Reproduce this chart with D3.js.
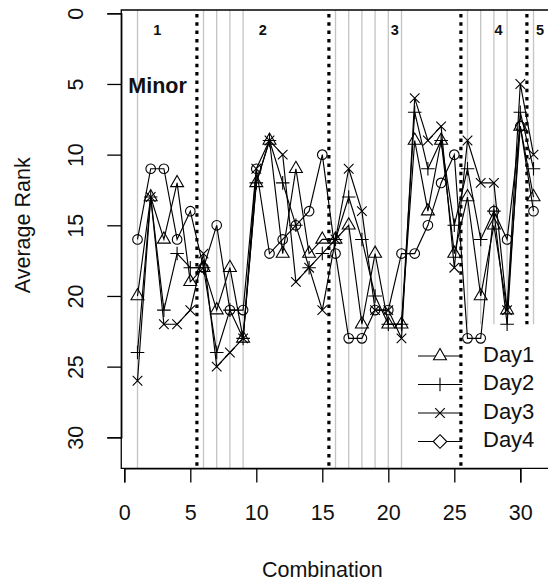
<!DOCTYPE html>
<html>
<head>
<meta charset="utf-8">
<script src="https://cdn.jsdelivr.net/npm/d3@7/dist/d3.min.js"></script>
<style>
  html, body { margin: 0; padding: 0; background: #fff; }
  svg { display: block; font-family: "Liberation Sans", Arial, sans-serif; }
</style>
</head>
<body>
<svg id="chart" width="548" height="588"></svg>
<script>
// Combinations 1..31 and the average rank for each day
const combos = d3.range(1, 32);
const day1 = [20,13,16,12,19,18,21,18,23,12,9,17,11,17,16,16,15,22,17,22,22,9,14,9,17,13,20,15,21,8,13];
const day2 = [24,13,21,17,18,18,24,21,23,12,9,12,15,18,17,16,13,16,20,22,22,7,11,9,15,11,16,14,22,7,11];
const day3 = [26,13,22,22,21,17,25,24,23,11,9,10,19,18,21,16,11,14,21,21,23,6,9,8,18,9,12,12,21,5,10];
const day4 = [16,11,11,16,14,18,15,21,21,11,17,16,15,14,10,17,23,23,21,21,17,17,15,12,10,23,23,14,16,8,14];
const seriesNames = ["Day1", "Day2", "Day3", "Day4"];
const xTicks = [0, 5, 10, 15, 20, 25, 30];
const yTicks = [0, 5, 10, 15, 20, 25, 30];

// Group separators, group labels and the thin guide lines
const groupBreaks = [5.5, 15.5, 25.5, 30.5];
const groupLabels = ["1", "2", "3", "4", "5"];
const groupLabelX = [2.5, 10.5, 20.5, 28.35, 31.5];
const guidesFull = [1, 6, 7, 8, 9, 16, 17, 18, 19, 20, 21];
const guidesShort = [26, 27, 28, 29, 31];
const shortGuideEnd = 22;

const svg = d3.select("#chart");
const x = d3.scaleLinear().domain([0, 30]).range([124.3, 520.3]);
const y = d3.scaleLinear().domain([0, 30]).range([13.3, 437.3]);
const xMin = -0.23, xMax = 32.3, yMin = -0.235, yMax = 32.2;

const font = 21.5;

// guide lines
const g = svg.append("g");
g.selectAll("line.gf").data(guidesFull).join("line")
  .attr("x1", d => x(d)).attr("x2", d => x(d))
  .attr("y1", y(yMin)).attr("y2", y(yMax))
  .attr("stroke", "#c4c4c4").attr("stroke-width", 1.3);
g.selectAll("line.gs").data(guidesShort).join("line")
  .attr("x1", d => x(d)).attr("x2", d => x(d))
  .attr("y1", y(yMin)).attr("y2", y(shortGuideEnd))
  .attr("stroke", "#c4c4c4").attr("stroke-width", 1.3);

// dotted group separators
g.selectAll("line.gb").data(groupBreaks).join("line")
  .attr("x1", d => x(d)).attr("x2", d => x(d))
  .attr("y1", y(yMin) + 4)
  .attr("y2", d => d > 30 ? y(shortGuideEnd) : y(yMax))
  .attr("stroke", "#000").attr("stroke-width", 3.2)
  .attr("stroke-dasharray", "3.5,4.8");

// group labels
g.selectAll("text.gl").data(groupLabels).join("text")
  .attr("x", (d, i) => x(groupLabelX[i])).attr("y", y(1.2))
  .attr("dy", "0.35em").attr("text-anchor", "middle")
  .attr("font-size", 14.5).attr("font-weight", "bold").attr("fill", "#111")
  .text(d => d);

svg.append("text")
  .attr("x", x(0.3)).attr("y", 93)
  .attr("font-size", 21.5).attr("font-weight", "bold").attr("fill", "#111")
  .text("Minor");

// marker shapes
const r0 = 4.8;
const markers = {
  Day1: () => {
    const h = 1.3468 * r0, up = 1.5551 * r0, dn = 0.7776 * r0;
    return `M0,${-up}L${h},${dn}L${-h},${dn}Z`;
  },
  Day2: () => { const s = Math.SQRT2 * r0; return `M${-s},0H${s}M0,${-s}V${s}`; },
  Day3: () => { const s = r0; return `M${-s},${-s}L${s},${s}M${-s},${s}L${s},${-s}`; },
  Day4: () => {
    return `M${-r0},0A${r0},${r0} 0 1,0 ${r0},0A${r0},${r0} 0 1,0 ${-r0},0Z`;
  },
  Day4Legend: () => { const s = Math.SQRT2 * r0; return `M0,${-s}L${s},0L0,${s}L${-s},0Z`; }
};

const seriesData = [day1, day2, day3, day4];
const line = d3.line().x((d, i) => x(combos[i])).y(d => y(d));

seriesData.forEach((vals, k) => {
  const name = seriesNames[k];
  svg.append("path").datum(vals)
    .attr("d", line).attr("fill", "none")
    .attr("stroke", "#000").attr("stroke-width", 1.15);
  svg.append("g").selectAll("path").data(vals).join("path")
    .attr("transform", (d, i) => `translate(${x(combos[i])},${y(d)})`)
    .attr("d", markers[name]())
    .attr("fill", "none").attr("stroke", "#000").attr("stroke-width", 1.1);
});

// plot frame (open on the right where it runs past the page)
svg.append("path")
  .attr("d", `M${x(xMax)},${y(yMin)}H${x(xMin)}V${y(yMax)}H${x(xMax)}`)
  .attr("fill", "none").attr("stroke", "#000").attr("stroke-width", 1.3);

// axes
const xAxis = d3.axisBottom(x).tickValues(xTicks).tickSize(14).tickPadding(22).tickFormat(d3.format("d"));
const xg = svg.append("g").attr("transform", `translate(0,${y(yMax)})`).call(xAxis);
xg.select(".domain").attr("stroke-width", 1.3);
xg.selectAll(".tick line").attr("stroke-width", 1.3);
xg.selectAll("text").attr("font-size", font).attr("font-family", null).attr("fill", "#111");

const yAxis = d3.axisLeft(y).tickValues(yTicks).tickSize(14).tickFormat(d3.format("d"));
const yg = svg.append("g").attr("transform", `translate(${x(xMin)},0)`).call(yAxis);
yg.select(".domain").attr("stroke-width", 1.3);
yg.selectAll(".tick line").attr("stroke-width", 1.3);
yg.selectAll("text")
  .attr("font-size", font).attr("font-family", null).attr("fill", "#111")
  .attr("x", null).attr("dy", null)
  .attr("transform", "translate(-44,0) rotate(-90)")
  .attr("text-anchor", "middle").attr("dominant-baseline", "middle");

// axis titles
svg.append("text")
  .attr("x", x(15)).attr("y", 577)
  .attr("text-anchor", "middle").attr("font-size", font).attr("fill", "#111")
  .text("Combination");
svg.append("text")
  .attr("transform", `translate(24,${y(15)}) rotate(-90)`)
  .attr("text-anchor", "middle").attr("dominant-baseline", "middle")
  .attr("font-size", font).attr("fill", "#111")
  .text("Average Rank");

// legend
const legend = svg.append("g");
const legY = d => 356 + d * 28.5;
seriesNames.forEach((name, i) => {
  const row = legend.append("g").attr("transform", `translate(0,${legY(i)})`);
  row.append("line").attr("x1", 418).attr("x2", 462).attr("y1", 0).attr("y2", 0)
    .attr("stroke", "#000").attr("stroke-width", 1.1);
  row.append("path").attr("transform", "translate(440,0)")
    .attr("d", name === "Day4" ? markers.Day4Legend() : markers[name]())
    .attr("fill", "#fff").attr("stroke", "#000").attr("stroke-width", 1.1);
  row.append("text").attr("x", 483).attr("y", 0)
    .attr("dominant-baseline", "middle").attr("font-size", 22).attr("fill", "#111")
    .text(name);
});
</script>
</body>
</html>
